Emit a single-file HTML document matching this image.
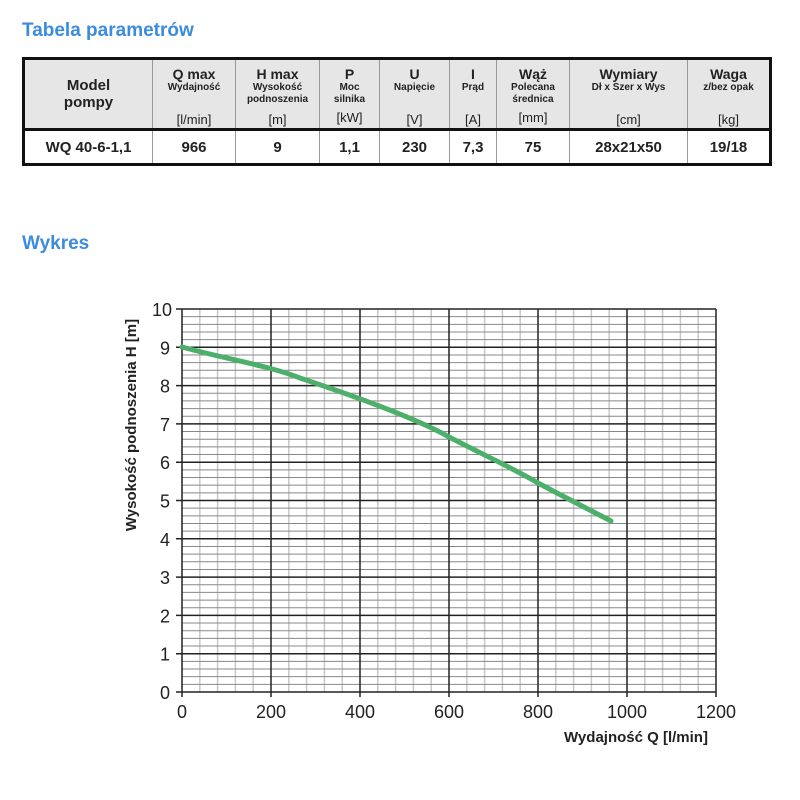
<!DOCTYPE html>
<html><head><meta charset="utf-8"><style>
body{margin:0;width:800px;height:800px;background:#fff;font-family:"Liberation Sans",sans-serif;position:relative;overflow:hidden}
.t{position:absolute;color:#3b8be0;font-size:19px;font-weight:bold}
table{position:absolute;left:22px;top:57px;width:750px;border-collapse:collapse;border:3px solid #111;color:#222;table-layout:fixed}
td{text-align:center;border-left:1px solid #999;padding:0}
tr.h td{background:#e6e6e6;height:68px;border-bottom:3px solid #111;vertical-align:top}
tr.d td{height:32px;font-size:15px;font-weight:bold}
.b{font-size:14px;font-weight:bold;display:block;margin-top:6px}
.s{font-size:10px;font-weight:bold;display:block;line-height:12px}
.u{font-size:13px;display:block;position:relative}
</style></head><body>
<div class="t" style="left:22px;top:20px">Tabela parametrów</div>
<table>
<colgroup><col style="width:129px"><col style="width:83px"><col style="width:84px"><col style="width:60px"><col style="width:70px"><col style="width:47px"><col style="width:73px"><col style="width:118px"><col></colgroup>
<tr class="h">
<td style="vertical-align:middle;font-size:15px;font-weight:bold">Model<br>pompy</td>
<td><span class="b">Q max</span><span class="s">Wydajność</span><span class="u" style="top:18px">[l/min]</span></td>
<td><span class="b">H max</span><span class="s">Wysokość<br>podnoszenia</span><span class="u" style="top:6px">[m]</span></td>
<td><span class="b">P</span><span class="s">Moc<br>silnika</span><span class="u" style="top:4px">[kW]</span></td>
<td><span class="b">U</span><span class="s">Napięcie</span><span class="u" style="top:18px">[V]</span></td>
<td><span class="b">I</span><span class="s">Prąd</span><span class="u" style="top:18px">[A]</span></td>
<td><span class="b">Wąż</span><span class="s">Polecana<br>średnica</span><span class="u" style="top:4px">[mm]</span></td>
<td><span class="b">Wymiary</span><span class="s">Dł x Szer x Wys</span><span class="u" style="top:18px">[cm]</span></td>
<td><span class="b">Waga</span><span class="s">z/bez opak</span><span class="u" style="top:18px">[kg]</span></td>
</tr>
<tr class="d"><td>WQ 40-6-1,1</td><td>966</td><td>9</td><td>1,1</td><td>230</td><td>7,3</td><td>75</td><td>28x21x50</td><td>19/18</td></tr>
</table>
<div class="t" style="left:22px;top:233px">Wykres</div>
<svg width="800" height="800" style="position:absolute;left:0;top:0" font-family="Liberation Sans,sans-serif">
<g id="g"></g>
</svg>
<script>
var s='',x0=182,x1=716,y0=692,y1=309;
for(var i=0;i<=30;i++){var x=x0+(x1-x0)*i/30;if(i%5)s+='<line x1="'+x+'" y1="'+y1+'" x2="'+x+'" y2="'+y0+'" stroke="#c8c8c8" stroke-width="1.5"/>';}
for(var i=0;i<=50;i++){var y=y0-(y0-y1)*i/50;if(i%5)s+='<line x1="'+x0+'" y1="'+y+'" x2="'+x1+'" y2="'+y+'" stroke="#888" stroke-width="1"/>';}
for(var i=0;i<=6;i++){var x=x0+(x1-x0)*i/6;s+='<line x1="'+x+'" y1="'+y1+'" x2="'+x+'" y2="'+(y0+5)+'" stroke="#222" stroke-width="1.5"/><text x="'+x+'" y="718" font-size="18" fill="#222" text-anchor="middle">'+(i*200)+'</text>';}
for(var i=0;i<=10;i++){var y=y0-(y0-y1)*i/10;s+='<line x1="'+(x0-6)+'" y1="'+y+'" x2="'+x1+'" y2="'+y+'" stroke="#222" stroke-width="1.5"/><text x="'+(i==10?172:170)+'" y="'+(y+7)+'" font-size="18" fill="#222" text-anchor="end">'+i+'</text>';}
s+='<path d="M182,347 C230,360 270,366 300,378 C360,398 420,420 449,437 C490,458 520,472 538,483 C570,500 590,510 611,521" fill="none" stroke="#4caf6a" stroke-width="5" stroke-linecap="round"/>';
s+='<text x="636" y="742" font-size="15" font-weight="bold" fill="#222" text-anchor="middle">Wydajność Q [l/min]</text>';
s+='<text transform="translate(136,425) rotate(-90)" font-size="15" font-weight="bold" fill="#222" text-anchor="middle">Wysokość podnoszenia H [m]</text>';
document.getElementById('g').innerHTML=s;
</script>
</body></html>
